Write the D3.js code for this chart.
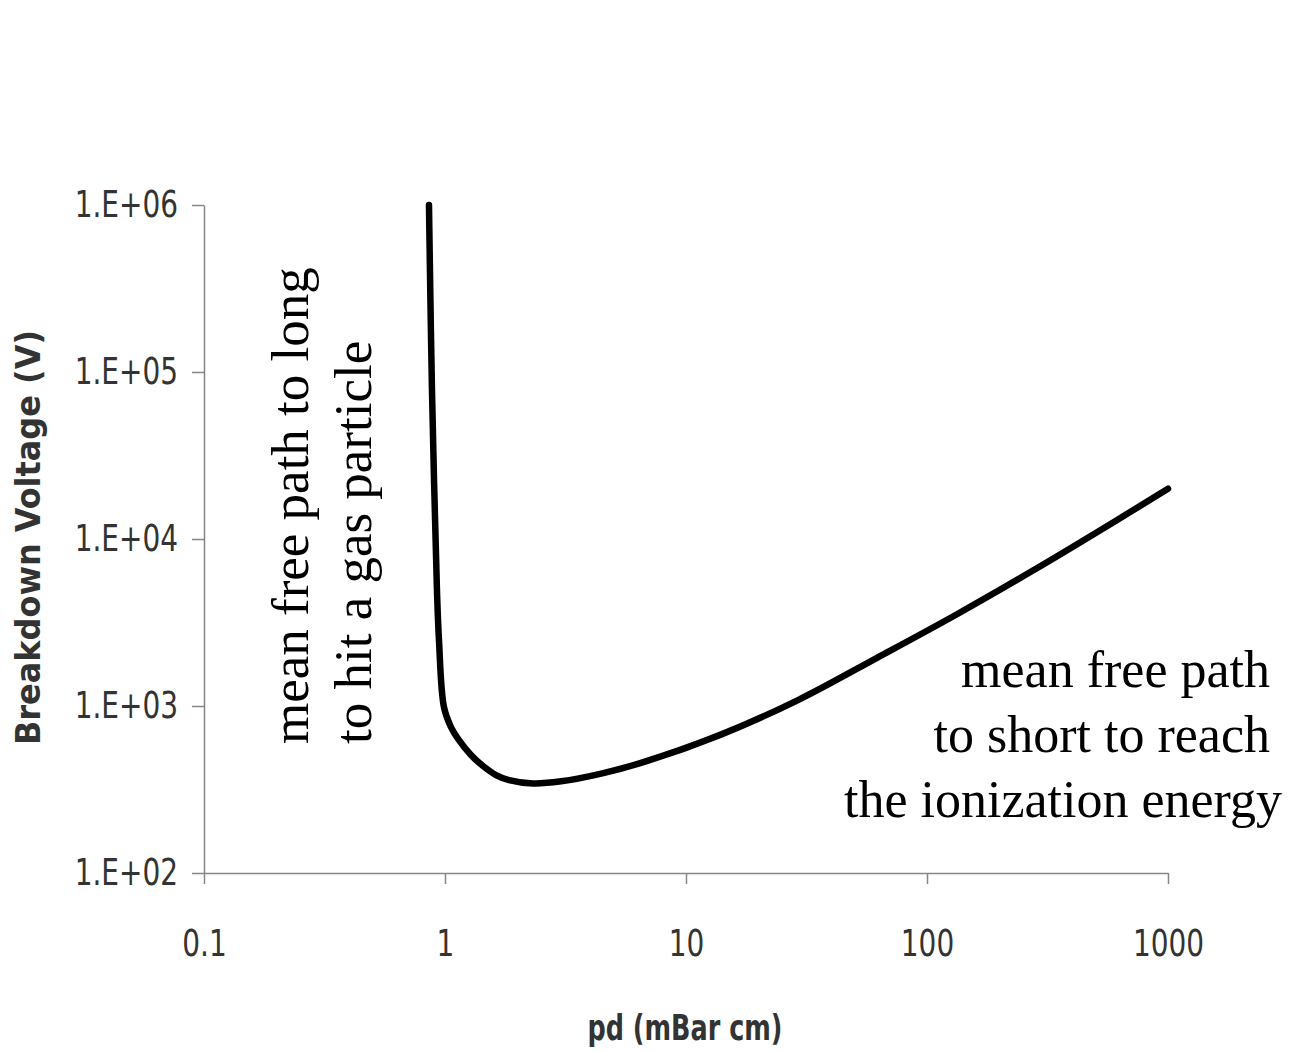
<!DOCTYPE html>
<html>
<head>
<meta charset="utf-8">
<script src="https://cdn.jsdelivr.net/npm/d3@7"></script>
<style>
  body { margin: 0; background: #fff; }
</style>
</head>
<body>
<svg id="svg"></svg>
<script>
// values (pd in mBar cm, breakdown voltage in V)
const pdValues = [0.858, 0.870, 0.883, 0.926, 0.944, 0.990, 1.059, 1.143, 1.282, 1.438, 1.628, 1.844, 2.32, 3.03, 4.45, 6.46, 13.7, 29.3, 62.3, 132.6, 282, 601, 1000];
const voltValues = [1000000, 270000, 78000, 4955, 2485, 986, 748, 625, 509, 437, 386, 360, 344, 354, 394, 455, 667, 1089, 1950, 3532, 6607, 12735, 20000];

const xTicks = [0.1, 1, 10, 100, 1000];
const xTickLabels = ['0.1', '1', '10', '100', '1000'];
const yTicks = [100, 1000, 10000, 100000, 1000000];
const yTickLabels = ['1.E+02', '1.E+03', '1.E+04', '1.E+05', '1.E+06'];

const leftNote = ['mean free path to long', 'to hit a gas particle'];
const rightNote = ['mean free path', 'to short to reach', 'the ionization energy'];

const data = pdValues.map((pd, i) => ({ pd: pd, v: voltValues[i] }));

const margin = { top: 205, right: 121, bottom: 180, left: 204 };
const width = 964;
const height = 668;

const sansFont = '"DejaVu Sans Condensed", "DejaVu Sans", sans-serif';
const serif = '"Liberation Serif", "Times New Roman", serif';

const svg = d3.select('#svg')
  .attr('width', 1289)
  .attr('height', 1053);

// squeeze text sideways to look like the narrow axis font of the original
function squeeze(sel, k) {
  sel.each(function() {
    const w = this.getComputedTextLength();
    d3.select(this)
      .attr('textLength', w * k)
      .attr('lengthAdjust', 'spacingAndGlyphs');
  });
}

// SCALES
const xScale = d3.scaleLog()
  .domain([0.1, 1000])
  .range([0, width]);

const yScale = d3.scaleLog()
  .domain([100, 1000000])
  .range([height, 0]);

const g = svg.append('g')
  .attr('transform', `translate(${margin.left}, ${margin.top})`);

// X AXIS
const xAxis = g.append('g')
  .attr('transform', `translate(0, ${height})`)
  .call(d3.axisBottom(xScale)
    .tickValues(xTicks)
    .tickFormat((d, i) => xTickLabels[i])
    .tickSize(11)
    .tickSizeOuter(0)
    .tickPadding(46));

// Y AXIS
const yAxis = g.append('g')
  .call(d3.axisLeft(yScale)
    .tickValues(yTicks)
    .tickFormat((d, i) => yTickLabels[i])
    .tickSize(12)
    .tickSizeOuter(0)
    .tickPadding(14));

[xAxis, yAxis].forEach(ax => {
  ax.select('.domain').attr('stroke', '#868686').attr('stroke-width', 1.5);
  ax.selectAll('.tick line').attr('stroke', '#868686').attr('stroke-width', 1.5);
  ax.selectAll('.tick text')
    .attr('fill', '#333')
    .attr('font-family', sansFont)
    .attr('font-size', '37px')
    .call(squeeze, 0.84);
});

// the curve
const line = d3.line()
  .x(d => xScale(d.pd))
  .y(d => yScale(d.v))
  .curve(d3.curveCatmullRom.alpha(0.5));

g.append('path')
  .datum(data)
  .attr('fill', 'none')
  .attr('stroke', '#000')
  .attr('stroke-width', 6.5)
  .attr('stroke-linecap', 'round')
  .attr('d', line);

// AXIS TITLES
svg.append('text')
  .attr('text-anchor', 'middle')
  .attr('font-family', sansFont)
  .attr('font-weight', 'bold')
  .attr('font-size', '35px')
  .attr('fill', '#333')
  .attr('x', 685)
  .attr('y', 1040)
  .attr('textLength', 195)
  .attr('lengthAdjust', 'spacingAndGlyphs')
  .text('pd (mBar cm)');

svg.append('text')
  .attr('font-family', sansFont)
  .attr('font-weight', 'bold')
  .attr('font-size', '33px')
  .attr('fill', '#333')
  .attr('transform', 'translate(40, 745) rotate(-90)')
  .attr('textLength', 415)
  .attr('lengthAdjust', 'spacingAndGlyphs')
  .text('Breakdown Voltage (V)');

// NOTES
leftNote.forEach((t, i) => {
  svg.append('text')
    .attr('font-family', serif)
    .attr('font-size', '53px')
    .attr('fill', '#000')
    .attr('transform', `translate(${308 + i * 63}, 744) rotate(-90)`)
    .text(t);
});

const rightEdges = [1270, 1270, 1282];
rightNote.forEach((t, i) => {
  svg.append('text')
    .attr('font-family', serif)
    .attr('font-size', '52px')
    .attr('fill', '#000')
    .attr('text-anchor', 'end')
    .attr('x', rightEdges[i])
    .attr('y', 687 + i * 65)
    .text(t);
});
</script>
</body>
</html>
